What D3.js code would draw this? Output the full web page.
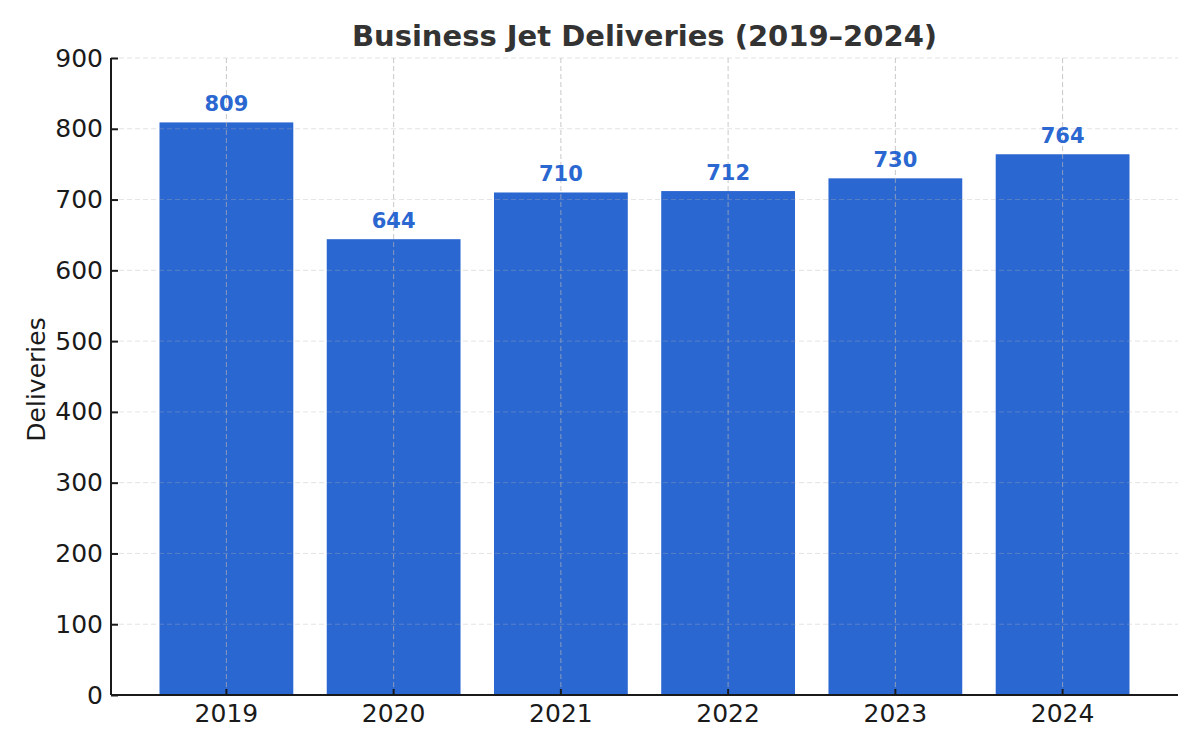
<!DOCTYPE html>
<html><head><meta charset="utf-8">
<script src="https://cdn.jsdelivr.net/npm/d3@7"></script>
<style>body{margin:0;background:#fff}svg{font-family:"DejaVu Sans",sans-serif}</style>
</head><body>
<svg id="c" width="1200" height="750"></svg>
<script>
const years = ["2019","2020","2021","2022","2023","2024"];
const deliveries = [809,644,710,712,730,764];
const yTicks = [0,100,200,300,400,500,600,700,800,900];

const svg = d3.select("#c");
const L=111, R=1178, T=58, B=695;
const x = d3.scaleBand().domain(years).range([L,R]).paddingInner(0.2).paddingOuter(0.29);
const y = d3.scaleLinear().domain([0,900]).range([B,T]);
const barColor = "#2b67d1";

// bars
svg.append("g").selectAll("rect").data(years).join("rect")
  .attr("x", d=>x(d)).attr("width", x.bandwidth())
  .attr("y", (d,i)=>y(deliveries[i])).attr("height",(d,i)=>B-y(deliveries[i]))
  .attr("fill", barColor);

// grid
svg.append("g").selectAll("line").data(yTicks.slice(1)).join("line")
  .attr("x1",L).attr("x2",R).attr("y1",d=>y(d)).attr("y2",d=>y(d))
  .attr("stroke","#b0b0b0").attr("stroke-opacity",0.35).attr("stroke-width",1).attr("stroke-dasharray","5,3");
svg.append("g").selectAll("line").data(years).join("line")
  .attr("x1",d=>x(d)+x.bandwidth()/2).attr("x2",d=>x(d)+x.bandwidth()/2).attr("y1",T).attr("y2",B)
  .attr("stroke","#b0b0b0").attr("stroke-opacity",0.7).attr("stroke-width",1).attr("stroke-dasharray","5,3");

// axes
const yAxis = d3.axisLeft(y).tickValues(yTicks).tickSizeInner(-7).tickSizeOuter(0).tickPadding(8);
const gy = svg.append("g").attr("transform",`translate(${L},0)`).call(yAxis);
const xAxis = d3.axisBottom(x).tickSizeInner(-6).tickSizeOuter(0).tickPadding(9);
const gx = svg.append("g").attr("transform",`translate(0,${B})`).call(xAxis);
[gy,gx].forEach(g=>{
  g.select(".domain").attr("stroke","#1a1a1a").attr("stroke-width",2);
  g.selectAll(".tick line").attr("stroke","#1a1a1a").attr("stroke-width",2);
  g.selectAll(".tick text").attr("fill","#1a1a1a").style("font-size","25px").style("font-family","DejaVu Sans");
});
gx.select(".domain").attr("d",`M${L},0H${R}`);
gy.select(".domain").attr("d",`M0,${B}V${T}`);

// value labels
svg.append("g").selectAll("text").data(years).join("text")
  .attr("x", d=>x(d)+x.bandwidth()/2).attr("y",(d,i)=>y(deliveries[i])-11)
  .attr("text-anchor","middle").attr("fill",barColor)
  .style("font-size","21px").style("font-weight","bold")
  .text((d,i)=>deliveries[i]);

// title
svg.append("text").attr("x",(L+R)/2).attr("y",46).attr("text-anchor","middle")
  .attr("fill","#333333").style("font-size","29px").style("font-weight","bold")
  .text("Business Jet Deliveries (2019–2024)");
// y label
svg.append("text").attr("transform",`translate(45,${(T+B)/2+3}) rotate(-90)`).attr("text-anchor","middle")
  .attr("fill","#1a1a1a").style("font-size","25px").text("Deliveries");
</script>
</body></html>
